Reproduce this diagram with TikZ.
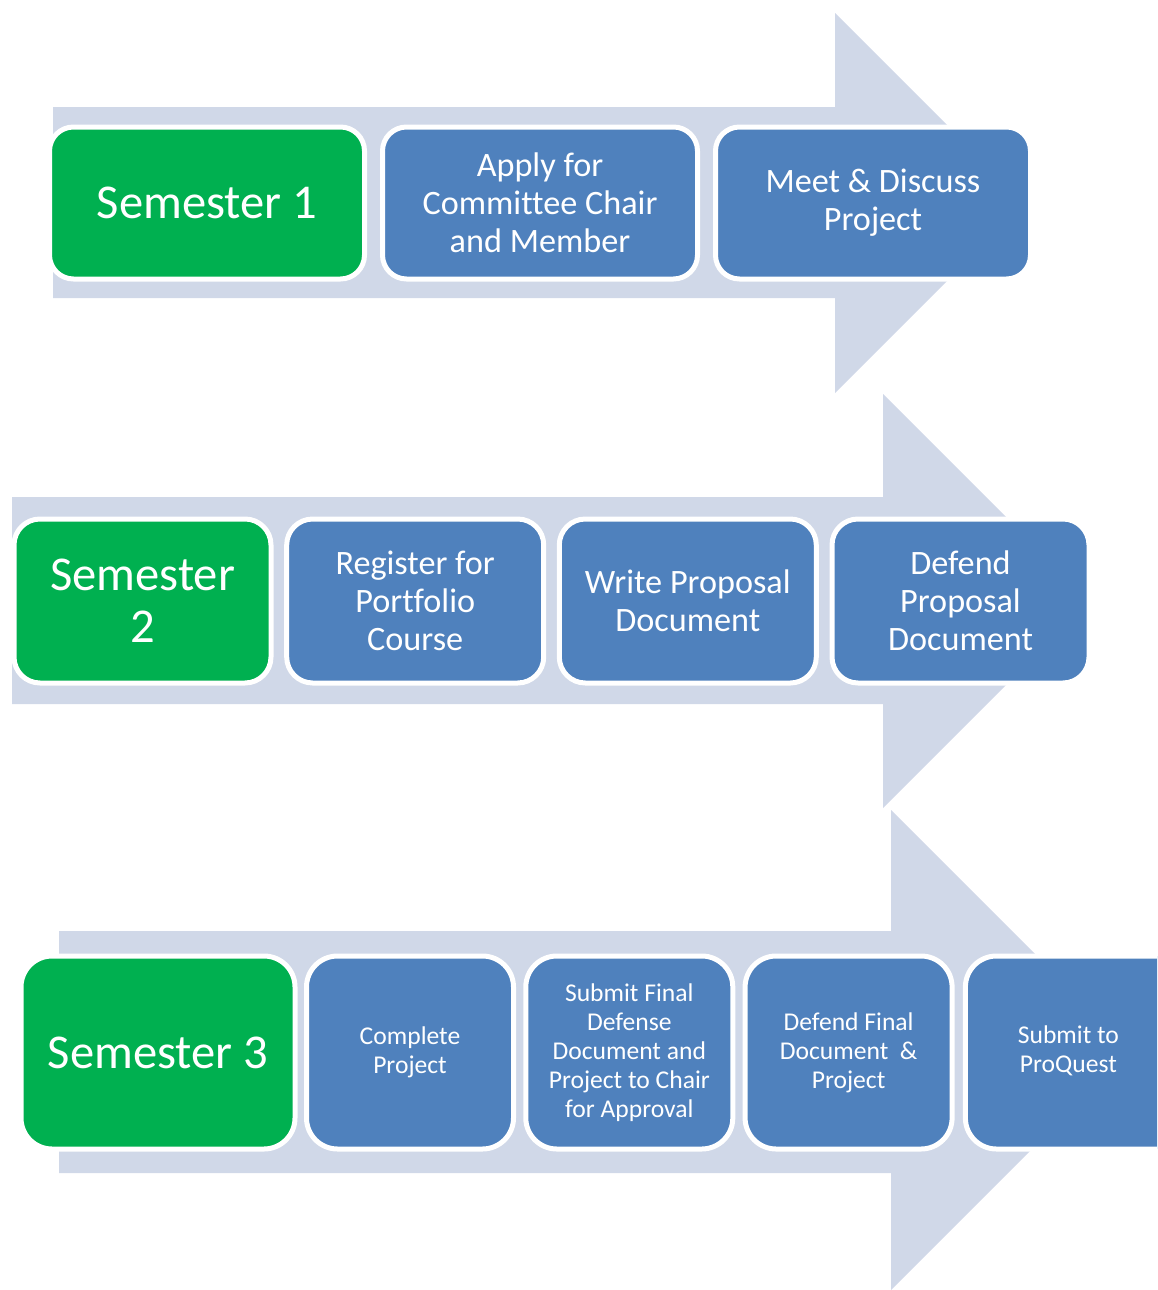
\documentclass[tikz,border=0pt]{standalone}
\usepackage{fontspec}
\setmainfont{Carlito}[Ligatures=NoCommon]
\usepackage{tikz}
\usetikzlibrary{positioning}
\definecolor{semgreen}{HTML}{00B050}
\definecolor{taskblue}{HTML}{4F81BD}
\definecolor{flowgray}{HTML}{D0D8E8}

\begin{document}
\begin{tikzpicture}[x=0.5pt,y=-0.5pt,
every node/.style={text=white, align=center, inner sep=0pt},
sembox/.style={draw=white, line width=2.5pt, fill=semgreen, font=\fontsize{24.3}{26}\selectfont},
taskbox/.style={draw=white, line width=2.5pt, fill=taskblue},
rowone/.style={minimum width=157.5pt, minimum height=76pt, rounded corners=12pt},
rowtwo/.style={minimum width=128.5pt, minimum height=82pt, rounded corners=13pt},
rowthree/.style={minimum width=103.5pt, minimum height=96.5pt, rounded corners=15.5pt},
bigtext/.style={font=\fontsize{17.1}{19}\selectfont},
smalltext/.style={font=\fontsize{12.8}{14.5}\selectfont},
flow/.style={fill=flowgray}]
\useasboundingbox (0,0) rectangle (1157,1290);
\clip (0,0) rectangle (1157,1290);
% big arrows
\fill[flow] (53,107) -- (835,107) -- (835,13) -- (1025,203) -- (835,393) -- (835,298) -- (53,298) -- cycle;
\fill[flow] (12,497) -- (883,497) -- (883,394) -- (1090,601) -- (883,808) -- (883,704) -- (12,704) -- cycle;
\fill[flow] (59,931) -- (891,931) -- (891,810) -- (1131,1050) -- (891,1290) -- (891,1173) -- (59,1173) -- cycle;
% semester 1
\node[sembox,rowone] (s1) at (207,203) {Semester 1};
\node[taskbox,rowone,bigtext] (s1a) at (540,203) {Apply for\\Committee Chair\\and Member};
\node[taskbox,rowone,bigtext] (s1b) at (873,203) {Meet \& Discuss\\Project};
% semester 2
\node[sembox,rowtwo] (s2) at (142.5,601) {Semester\\2};
\node[taskbox,rowtwo,bigtext] (s2a) at (415.2,601) {Register for\\Portfolio\\Course};
\node[taskbox,rowtwo,bigtext] (s2b) at (687.8,601) {Write Proposal\\Document};
\node[taskbox,rowtwo,bigtext] (s2c) at (960.5,601) {Defend\\Proposal\\Document};
% semester 3
\node[sembox,rowthree,minimum width=137pt] (s3) at (158,1052.5) {Semester 3};
\node[taskbox,rowthree,smalltext] (s3a) at (410,1052.5) {Complete\\Project};
\node[taskbox,rowthree,smalltext] (s3b) at (629.3,1052.5) {Submit Final\\Defense\\Document and\\Project to Chair\\for Approval};
\node[taskbox,rowthree,smalltext] (s3c) at (848.6,1052.5) {Defend Final\\Document~~\&\\Project};
\node[taskbox,rowthree,smalltext,minimum width=115pt] (s3d) at (1080.4,1052.5) {\hspace*{-12pt}\begin{tabular}{@{}c@{}}Submit to\\ProQuest\end{tabular}};
\end{tikzpicture}
\end{document}
